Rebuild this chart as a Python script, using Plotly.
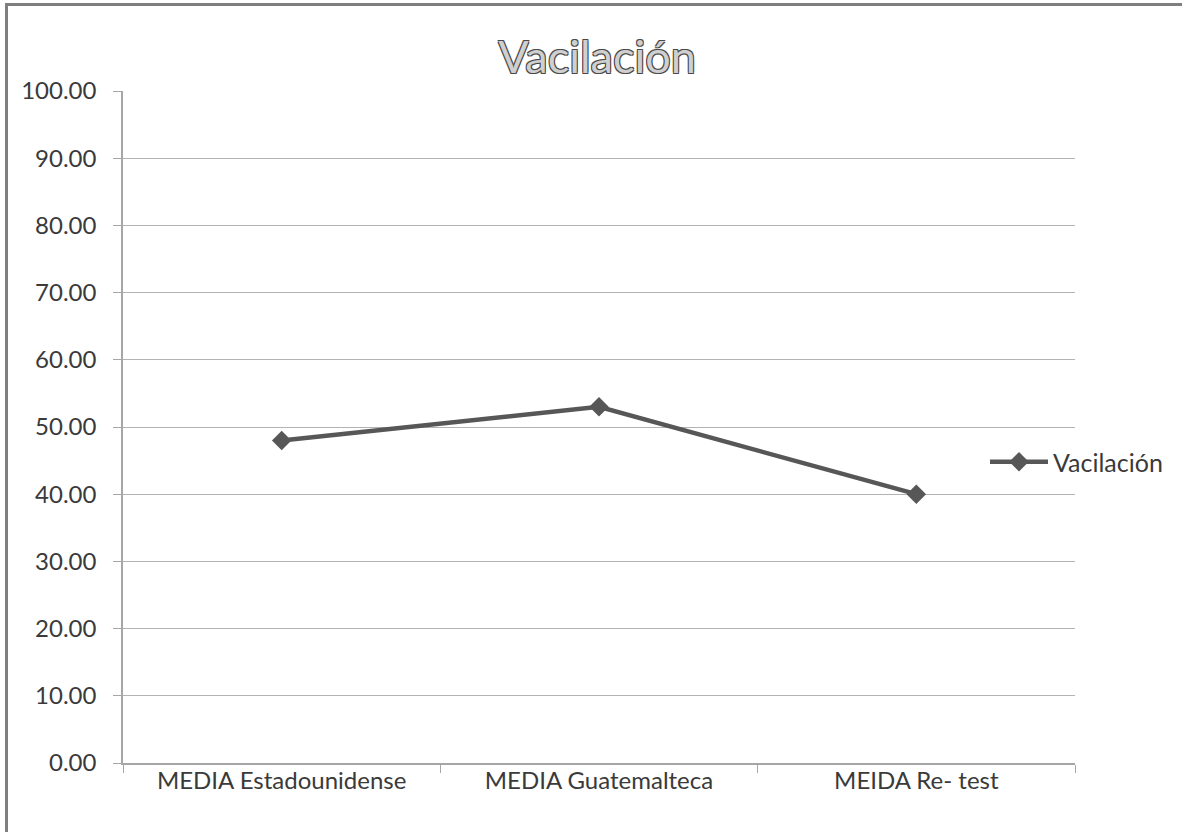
import plotly.graph_objects as go

# Data
categories = ["MEDIA Estadounidense", "MEDIA Guatemalteca", "MEIDA Re- test"]
vacilacion = [48.0, 53.0, 40.0]
y_ticks = [0, 10, 20, 30, 40, 50, 60, 70, 80, 90, 100]

W, H = 1182, 832
M_L, M_R, M_T, M_B = 123, 107, 91, 69
PW, PH = W - M_L - M_R, H - M_T - M_B

LINE_COLOR = "#575757"
AXIS_COLOR = "#a6a6a6"
GRID_COLOR = "#b3b3b3"
TEXT_COLOR = "#3a3a3a"
FONT = "Lato, 'Open Sans', sans-serif"

fig = go.Figure()
fig.add_trace(go.Scatter(
    x=categories,
    y=vacilacion,
    mode="lines+markers",
    name="Vacilación",
    line=dict(color=LINE_COLOR, width=4.5),
    marker=dict(symbol="diamond", size=15, color=LINE_COLOR),
))


def px_to_paper_x(px):
    return (px - M_L) / PW


def px_to_paper_y(py):
    return (H - M_B - py) / PH


# Frame lines along the top and left edges of the figure
frame = [
    dict(type="line", xref="paper", yref="paper",
         x0=px_to_paper_x(6.5), x1=px_to_paper_x(W + 5),
         y0=px_to_paper_y(4.5), y1=px_to_paper_y(4.5),
         line=dict(color="#7f7f7f", width=3)),
    dict(type="line", xref="paper", yref="paper",
         x0=px_to_paper_x(6.5), x1=px_to_paper_x(6.5),
         y0=px_to_paper_y(3), y1=px_to_paper_y(H + 5),
         line=dict(color="#7f7f7f", width=3)),
]

fig.update_layout(
    width=W,
    height=H,
    margin=dict(l=M_L, r=M_R, t=M_T, b=M_B, autoexpand=False),
    paper_bgcolor="white",
    plot_bgcolor="white",
    font=dict(family=FONT, color=TEXT_COLOR),
    title=dict(
        text="Vacilación",
        x=597 / W,
        xanchor="center",
        y=1 - 57 / H,
        yanchor="middle",
        font=dict(
            family=FONT,
            size=45,
            color="#cfcfcf",
            shadow="-1px -1px 0 #4a4a4a, 1px -1px 0 #4a4a4a, -1px 1px 0 #4a4a4a, 1px 1px 0 #4a4a4a",
        ),
    ),
    showlegend=True,
    legend=dict(
        x=px_to_paper_x(985),
        xanchor="left",
        y=px_to_paper_y(462),
        yanchor="middle",
        itemwidth=58,
        font=dict(family=FONT, size=25, color=TEXT_COLOR),
        bgcolor="rgba(0,0,0,0)",
    ),
    shapes=frame,
)

fig.update_xaxes(
    type="category",
    tickson="boundaries",
    ticks="outside",
    ticklen=8,
    tickcolor=AXIS_COLOR,
    ticklabelstandoff=-5,
    showline=True,
    linecolor=AXIS_COLOR,
    linewidth=1.5,
    showgrid=False,
    tickfont=dict(family=FONT, size=24, color=TEXT_COLOR),
    range=[-0.5, 2.5],
)

fig.update_yaxes(
    range=[0, 100],
    tickvals=y_ticks,
    tickformat=".2f",
    ticks="outside",
    ticklen=8,
    tickcolor=AXIS_COLOR,
    ticklabelstandoff=12,
    showline=True,
    linecolor=AXIS_COLOR,
    linewidth=1.5,
    showgrid=True,
    gridcolor=GRID_COLOR,
    gridwidth=1,
    zeroline=False,
    tickfont=dict(family=FONT, size=24, color=TEXT_COLOR),
)

fig.write_html("out.html")
